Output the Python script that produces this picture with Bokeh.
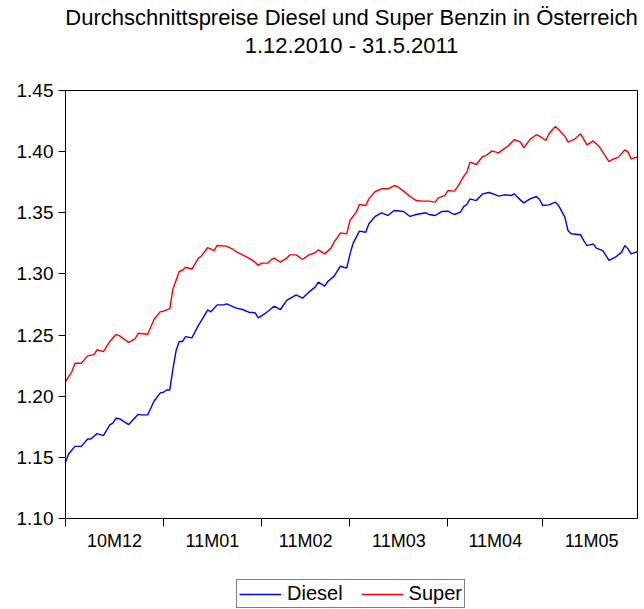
from bokeh.plotting import figure
from bokeh.layouts import column
from bokeh.models import (Range1d, FixedTicker, Legend, LegendItem, Title,
                          ColumnDataSource, NumeralTickFormatter)
from bokeh.embed import file_html
from bokeh.resources import INLINE

# ---- data (day index 0 = 1.12.2010, 181 = 31.5.2011) ----
month_labels = ["10M12", "11M01", "11M02", "11M03", "11M04", "11M05"]
month_starts = [0, 31, 62, 90, 121, 151, 182]

diesel_days = [0, 1, 3, 5, 7, 8, 10, 12, 14, 15, 16, 17, 19, 20, 23, 24, 26, 28, 30, 31,
               32, 33, 34, 35, 36, 37, 38, 40, 42, 43, 45, 46, 48, 50, 51, 54, 56, 58, 60,
               61, 63, 64, 66, 68, 70, 73, 75, 77, 79, 80, 82, 83, 85, 87, 89, 90, 91, 93,
               95, 96, 98, 100, 102, 104, 107, 109, 111, 114, 115, 117, 119, 121, 123, 125,
               126, 127, 128, 130, 132, 134, 136, 137, 139, 141, 142, 143, 145, 147, 149,
               150, 151, 153, 155, 156, 158, 159, 160, 163, 164, 165, 167, 168, 170, 172,
               174, 176, 177, 178, 179, 181]
diesel_vals = [1.146, 1.1528, 1.159, 1.159, 1.165, 1.165, 1.1694, 1.1678, 1.1765, 1.1779,
               1.182, 1.1817, 1.1784, 1.1768, 1.1852, 1.1847, 1.1847, 1.1959, 1.2027, 1.2032,
               1.2051, 1.2051, 1.2223, 1.2373, 1.2447, 1.2447, 1.2487, 1.2477, 1.2577, 1.2618,
               1.2706, 1.2690, 1.2747, 1.2747, 1.2755, 1.2720, 1.2709, 1.2687, 1.2682, 1.2641,
               1.2674, 1.2693, 1.2736, 1.2709, 1.2783, 1.2829, 1.2802, 1.2851, 1.2892, 1.2933,
               1.2900, 1.2938, 1.2982, 1.3063, 1.3047, 1.3160, 1.3250, 1.3350, 1.3341, 1.3410,
               1.3470, 1.3500, 1.3478, 1.3519, 1.3510, 1.3470, 1.3486, 1.3500, 1.3486, 1.3478,
               1.3510, 1.3513, 1.3486, 1.3505, 1.3551, 1.3568, 1.3614, 1.3600, 1.3655, 1.3666,
               1.3649, 1.3636, 1.3647, 1.3641, 1.3655, 1.3628, 1.3581, 1.3614, 1.3633, 1.3609,
               1.3560, 1.3565, 1.3587, 1.3560, 1.3464, 1.3355, 1.3328, 1.3320, 1.3273, 1.3232,
               1.3246, 1.3211, 1.3191, 1.3110, 1.3137, 1.3178, 1.3232, 1.3205, 1.3164, 1.3183]

super_days = [0, 2, 3, 5, 7, 9, 10, 12, 14, 16, 17, 20, 22, 23, 26, 28, 30, 31, 33, 34,
              36, 37, 38, 40, 42, 43, 45, 47, 48, 51, 53, 54, 56, 58, 60, 61, 62, 64, 65,
              66, 68, 70, 71, 73, 75, 77, 79, 80, 82, 84, 85, 87, 89, 90, 92, 93, 95, 96,
              98, 100, 102, 104, 105, 107, 109, 111, 113, 115, 117, 118, 120, 121, 123, 124,
              126, 127, 128, 130, 132, 133, 135, 137, 140, 142, 144, 145, 147, 149, 150, 152,
              153, 155, 156, 158, 159, 161, 163, 165, 167, 169, 170, 172, 173, 175, 177, 178,
              179, 181]
super_vals = [1.212, 1.220, 1.227, 1.227, 1.233, 1.234, 1.238, 1.2365, 1.2447, 1.2504,
              1.2496, 1.2440, 1.2468, 1.2515, 1.2507, 1.2627, 1.2692, 1.2695, 1.2716, 1.2877,
              1.3020, 1.3030, 1.3055, 1.3040, 1.3128, 1.3147, 1.3216, 1.3190, 1.3233, 1.3227,
              1.3200, 1.3183, 1.3156, 1.3129, 1.3096, 1.3069, 1.3088, 1.3088, 1.3115, 1.3129,
              1.3096, 1.3129, 1.3156, 1.3156, 1.3118, 1.3156, 1.3173, 1.3197, 1.3164, 1.3211,
              1.3260, 1.3336, 1.3328, 1.3437, 1.3505, 1.3568, 1.3560, 1.3614, 1.3674, 1.3696,
              1.3696, 1.3723, 1.3715, 1.3677, 1.3633, 1.3600, 1.3595, 1.3595, 1.3587, 1.3622,
              1.3641, 1.3682, 1.3677, 1.3709, 1.3797, 1.3832, 1.3914, 1.3895, 1.3960, 1.3968,
              1.4006, 1.3990, 1.4045, 1.4097, 1.4078, 1.4031, 1.4100, 1.4138, 1.4127, 1.4091,
              1.4146, 1.4206, 1.4181, 1.4127, 1.4078, 1.4100, 1.4146, 1.4056, 1.4088, 1.4037,
              1.3996, 1.3919, 1.3936, 1.3955, 1.4015, 1.3996, 1.3941, 1.3955]

y_ticks = [1.10, 1.15, 1.20, 1.25, 1.30, 1.35, 1.40, 1.45]
title_lines = ["Durchschnittspreise Diesel und Super Benzin in Österreich",
               "1.12.2010 - 31.5.2011"]
series_names = ["Diesel", "Super"]
series_colors = ["#0000ff", "#ff0000"]

FONT = "Liberation Sans"

p = figure(frame_width=572, frame_height=428, output_backend="svg",
           toolbar_location=None, x_range=Range1d(0, 181), y_range=Range1d(1.10, 1.45),
           min_border_left=65, min_border_right=2, min_border_top=90, min_border_bottom=40)

p.title.text = "\n".join(title_lines)
p.title.align = "center"
p.title.text_align = "center"
p.title.text_font = FONT
p.title.text_font_size = "22px"
p.title.text_line_height = 1.1
p.title.text_font_style = "normal"
p.title.text_color = "black"
p.title.standoff = 4
# blank spacer between the title and the plot frame
p.add_layout(Title(text=" ", text_font_size="10px", standoff=18), "above")

p.xgrid.visible = False
p.ygrid.visible = False
p.outline_line_color = "black"
p.outline_line_width = 1
p.background_fill_color = "white"
p.border_fill_color = "white"

# x axis: month boundaries as ticks, labels centred in each month
mids = [(month_starts[i] + month_starts[i + 1]) / 2 for i in range(len(month_labels))]
p.xaxis.ticker = FixedTicker(ticks=mids, minor_ticks=month_starts[:-1])
p.xaxis.major_label_overrides = {m: lab for m, lab in zip(mids, month_labels)}
p.xaxis.major_tick_out = 0
p.xaxis.major_tick_in = 0
p.xaxis.minor_tick_out = 8
p.xaxis.minor_tick_in = 0
p.xaxis.major_label_standoff = 4
p.xaxis.major_label_text_font = FONT
p.xaxis.major_label_text_font_size = "18px"
p.xaxis.major_label_text_color = "black"
p.xaxis.axis_line_color = "black"
p.xaxis.minor_tick_line_color = "black"

p.yaxis.ticker = FixedTicker(ticks=y_ticks)
p.yaxis.formatter = NumeralTickFormatter(format="0.00")
p.yaxis.major_tick_out = 7
p.yaxis.major_tick_in = 0
p.yaxis.minor_tick_line_color = None
p.yaxis.major_label_standoff = 5
p.yaxis.major_label_text_font = FONT
p.yaxis.major_label_text_font_size = "19px"
p.yaxis.major_label_text_color = "black"
p.yaxis.axis_line_color = "black"
p.yaxis.major_tick_line_color = "black"

src_d = ColumnDataSource(dict(x=diesel_days, y=diesel_vals))
src_s = ColumnDataSource(dict(x=super_days, y=super_vals))
p.line("x", "y", source=src_d, line_color=series_colors[0], line_width=1.4)
p.line("x", "y", source=src_s, line_color=series_colors[1], line_width=1.4)

# ---- legend strip below the chart ----
q = figure(frame_width=639, frame_height=51, output_backend="svg", toolbar_location=None,
           x_range=Range1d(0, 1), y_range=Range1d(0, 1),
           x_axis_location=None, y_axis_location=None,
           min_border_left=0, min_border_right=0, min_border_top=0, min_border_bottom=0)
q.xgrid.visible = False
q.ygrid.visible = False
q.outline_line_color = None
q.border_fill_color = "white"
q.background_fill_color = "white"
items = []
for name, col in zip(series_names, series_colors):
    # legend-only renderer: its points lie outside the strip's visible range
    r = q.line(x=[5, 6], y=[5, 5], line_color=col, line_width=1.4)
    items.append(LegendItem(label=name, renderers=[r]))

legend = Legend(items=items, orientation="horizontal", location=(236, 1),
                label_text_font=FONT, label_text_font_size="20px",
                label_text_color="black", glyph_width=42, glyph_height=16,
                border_line_color="black", border_line_width=1,
                padding=2, spacing=18, margin=0, label_standoff=6,
                background_fill_alpha=1)
q.add_layout(legend, "center")

layout = column(p, q, spacing=0)
open("out.html", "w").write(file_html(layout, INLINE))
